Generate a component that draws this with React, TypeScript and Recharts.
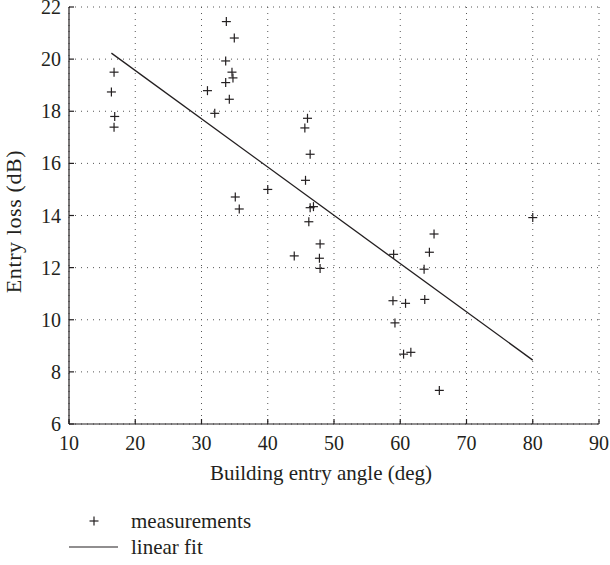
import React from "react";
import {
  ScatterChart,
  Scatter,
  XAxis,
  YAxis,
  CartesianGrid,
  Legend,
} from "recharts";

const angle = [
  16.8, 16.4, 16.9, 16.8,
  33.75, 34.95, 33.65, 34.6, 34.75, 33.65, 30.9, 34.2, 32.0, 35.1, 35.7,
  40.0,
  46.0, 45.6, 46.4, 45.7, 46.4, 46.9, 46.2, 47.9, 44.0, 47.8, 47.9,
  59.0, 65.1, 64.4, 63.6, 58.9, 60.8, 63.7, 59.2, 60.5, 61.6, 65.9,
  80.0,
];
const loss = [
  19.5, 18.74, 17.8, 17.39,
  21.44, 20.81, 19.93, 19.5, 19.28, 19.1, 18.79, 18.46, 17.92, 14.71, 14.25,
  15.0,
  17.73, 17.36, 16.35, 15.35, 14.3, 14.34, 13.76, 12.91, 12.45, 12.36, 11.97,
  12.51, 13.29, 12.59, 11.94, 10.73, 10.63, 10.78, 9.88, 8.68, 8.75, 7.29,
  13.92,
];

// least squares line, end points
const fitAngle = [16.4, 80];
const fitLoss = [20.23, 8.45];

const xTicks = [10, 20, 30, 40, 50, 60, 70, 80, 90];
const yTicks = [6, 8, 10, 12, 14, 16, 18, 20, 22];
const seriesNames = ["measurements", "linear fit"];

const measurements = angle.map((a, i) => ({ x: a, y: loss[i] }));
const fit = fitAngle.map((a, i) => ({ x: a, y: fitLoss[i] }));

const INK = "#231f20";
const FONT = "Liberation Serif";

function Plus(props: any) {
  const { cx, cy } = props;
  if (cx == null || cy == null) return <g />;
  return (
    <g stroke={INK} strokeWidth={1.2}>
      <line x1={cx - 4.5} y1={cy} x2={cx + 4.5} y2={cy} />
      <line x1={cx} y1={cy - 4.5} x2={cx} y2={cy + 4.5} />
    </g>
  );
}

function YTitle(props: any) {
  const vb = props.viewBox || { x: 0, y: 7, width: 69, height: 417 };
  const x = vb.x + 21;
  const y = vb.y + vb.height / 2 + 6;
  return (
    <text
      x={x}
      y={y}
      transform={`rotate(-90, ${x}, ${y})`}
      textAnchor="middle"
      fill={INK}
      fontSize={22}
      letterSpacing={0.6}
      fontFamily={FONT}
    >
      Entry loss (dB)
    </text>
  );
}

function XTitle(props: any) {
  const vb = props.viewBox || { x: 69, y: 424, width: 530, height: 30 };
  return (
    <text
      x={vb.x + vb.width / 2 - 13}
      y={vb.y + 56}
      textAnchor="middle"
      fill={INK}
      fontSize={21}
      fontFamily={FONT}
    >
      Building entry angle (deg)
    </text>
  );
}

function LegendBox() {
  const row: React.CSSProperties = {
    display: "flex",
    alignItems: "center",
    height: 26,
  };
  return (
    <div style={{ fontFamily: `"${FONT}"`, fontSize: 21, color: INK }}>
      <div style={row}>
        <svg width={65} height={26}>
          <line x1={28} y1={8.5} x2={28} y2={17.5} stroke={INK} strokeWidth={1.2} />
          <line x1={23.5} y1={13} x2={32.5} y2={13} stroke={INK} strokeWidth={1.2} />
        </svg>
        <span>{seriesNames[0]}</span>
      </div>
      <div style={row}>
        <svg width={65} height={26}>
          <line x1={3} y1={13} x2={52} y2={13} stroke={INK} strokeWidth={1.2} />
        </svg>
        <span>{seriesNames[1]}</span>
      </div>
    </div>
  );
}

const tickStyle = { fill: INK, fontSize: 20, fontFamily: FONT };

export default function App() {
  return (
    <div style={{ position: "absolute", left: 0, top: 0, background: "#fff" }}>
      <ScatterChart
        width={610}
        height={565}
        margin={{ top: 7, right: 11, left: 0, bottom: 111 }}
      >
        <CartesianGrid
          stroke="#555"
          strokeDasharray="1 5"
          strokeWidth={1}
        />
        <XAxis
          type="number"
          dataKey="x"
          domain={[10, 90]}
          ticks={xTicks}
          interval={0}
          height={30}
          tickSize={-5}
          tickMargin={17}
          tick={tickStyle}
          stroke={INK}
          strokeWidth={1.2}
          allowDataOverflow
          label={<XTitle />}
        />
        <XAxis
          xAxisId="top"
          orientation="top"
          type="number"
          domain={[10, 90]}
          ticks={xTicks}
          interval={0}
          height={0}
          tickSize={-5}
          tick={false}
          stroke={INK}
          strokeWidth={1.2}
          allowDataOverflow
        />
        <YAxis
          type="number"
          dataKey="y"
          domain={[6, 22]}
          ticks={yTicks}
          interval={0}
          width={69}
          tickSize={-5}
          tickMargin={13}
          tick={tickStyle}
          stroke={INK}
          strokeWidth={1.2}
          allowDataOverflow
          label={<YTitle />}
        />
        <YAxis
          yAxisId="right"
          orientation="right"
          type="number"
          domain={[6, 22]}
          ticks={yTicks}
          interval={0}
          width={0}
          tickSize={-5}
          tick={false}
          stroke={INK}
          strokeWidth={1.2}
          allowDataOverflow
        />
        <Legend
          layout="vertical"
          align="center"
          verticalAlign="middle"
          wrapperStyle={{ left: 66, top: 508, width: 240 }}
          content={() => <LegendBox />}
        />
        <Scatter
          name={seriesNames[0]}
          data={measurements}
          shape={<Plus />}
          isAnimationActive={false}
        />
        <Scatter
          name={seriesNames[1]}
          data={fit}
          line={{ stroke: INK, strokeWidth: 1.3 }}
          shape={() => <g />}
          isAnimationActive={false}
        />
      </ScatterChart>
    </div>
  );
}
